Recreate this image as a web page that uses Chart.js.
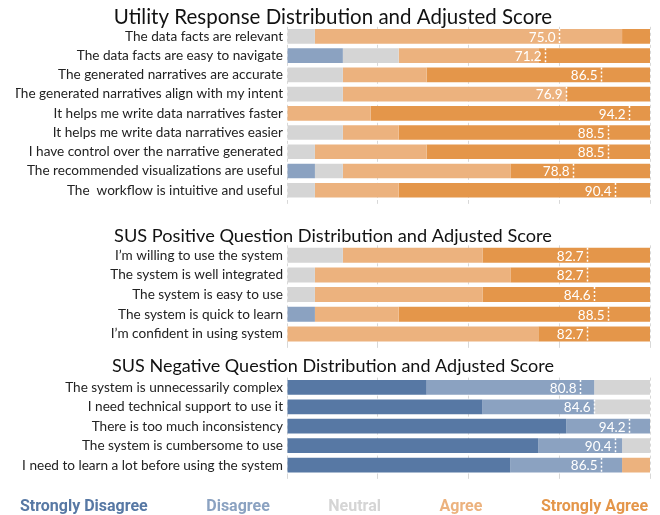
<!DOCTYPE html>
<html>
<head>
<meta charset="utf-8">
<script src="https://cdn.jsdelivr.net/npm/chart.js@4.4.1/dist/chart.umd.min.js"></script>
<style>
  body { margin: 0; background: #fff; }
  #wrap { position: relative; width: 660px; height: 515px; }
  .panel { position: absolute; left: 0; width: 660px; }
  #legend { position: absolute; left: 4px; top: 496px; width: 660px; display: flex; justify-content: center; gap: 58.5px;
    font-family: Roboto, sans-serif; font-weight: 700; font-size: 16px; }
</style>
</head>
<body>
<div id="wrap">
  <div class="panel" style="top:5px;height:207px"><canvas id="utilityChart"></canvas></div>
  <div class="panel" style="top:225px;height:131px"><canvas id="susPosChart"></canvas></div>
  <div class="panel" style="top:355px;height:132px"><canvas id="susNegChart"></canvas></div>
  <div id="legend"></div>
</div>
<script>
// Response counts (13 participants per question)
const respondents = 13;
const levels = ['Strongly Disagree', 'Disagree', 'Neutral', 'Agree', 'Strongly Agree'];
const levelColors = ['#5778a4', '#8ba2c1', '#d5d5d5', '#ecb27e', '#e4964a'];

const utilityLabels = [
  'The data facts are relevant',
  'The data facts are easy to navigate',
  'The generated narratives are accurate',
  'The generated narratives align with my intent',
  'It helps me write data narratives faster',
  'It helps me write data narratives easier',
  'I have control over the narrative generated',
  'The recommended visualizations are useful',
  'The  workflow is intuitive and useful'
];
const utilitySD = [0, 0, 0, 0, 0, 0, 0, 0, 0];
const utilityD = [0, 2, 0, 0, 0, 0, 0, 1, 0];
const utilityN = [1, 2, 2, 2, 0, 2, 1, 1, 1];
const utilityA = [11, 5, 3, 8, 3, 2, 4, 6, 3];
const utilitySA = [1, 4, 8, 3, 10, 9, 8, 5, 9];
const utilityScore = [75.0, 71.2, 86.5, 76.9, 94.2, 88.5, 88.5, 78.8, 90.4];

const susPosLabels = [
  'I’m willing to use the system',
  'The system is well integrated',
  'The system is easy to use',
  'The system is quick to learn',
  'I’m confident in using system'
];
const susPosSD = [0, 0, 0, 0, 0];
const susPosD = [0, 0, 0, 1, 0];
const susPosN = [2, 1, 1, 0, 0];
const susPosA = [5, 7, 6, 3, 9];
const susPosSA = [6, 5, 6, 9, 4];
const susPosScore = [82.7, 82.7, 84.6, 88.5, 82.7];

const susNegLabels = [
  'The system is unnecessarily complex',
  'I need technical support to use it',
  'There is too much inconsistency',
  'The system is cumbersome to use',
  'I need to learn a lot before using the system'
];
const susNegSD = [5, 7, 10, 9, 8];
const susNegD = [6, 4, 3, 3, 4];
const susNegN = [2, 2, 0, 1, 0];
const susNegA = [0, 0, 0, 0, 1];
const susNegSA = [0, 0, 0, 0, 0];
const susNegScore = [80.8, 84.6, 94.2, 90.4, 86.5];

const toPct = arr => arr.map(v => v / respondents * 100);

// Draws the adjusted score label and a dotted marker on every bar
const scorePlugin = {
  id: 'scoreMarker',
  afterDatasetsDraw(chart, args, opts) {
    const ctx = chart.ctx;
    const xScale = chart.scales.x;
    const meta = chart.getDatasetMeta(0);
    ctx.save();
    opts.scores.forEach((s, i) => {
      const bar = meta.data[i];
      const x = Math.round(xScale.getPixelForValue(s)) + 0.5;
      const top = bar.y - bar.height / 2;
      const bottom = bar.y + bar.height / 2;
      ctx.strokeStyle = '#fff';
      ctx.lineWidth = 1.5;
      ctx.setLineDash([2, 2]);
      ctx.beginPath();
      ctx.moveTo(x, top);
      ctx.lineTo(x, bottom);
      ctx.stroke();
      ctx.setLineDash([]);
      ctx.fillStyle = '#fff';
      ctx.font = '13.5px Lato';
      ctx.textAlign = 'right';
      ctx.textBaseline = 'middle';
      ctx.fillText(s.toFixed(1), x - 4, bar.y + 1);
    });
    ctx.restore();
  }
};

function makeChart(id, title, titleSize, labels, series, scores, titlePad) {
  const ctx = document.getElementById(id).getContext('2d');
  return new Chart(ctx, {
    type: 'bar',
    data: {
      labels: labels,
      datasets: series.map((s, k) => ({
        label: levels[k],
        data: toPct(s),
        backgroundColor: levelColors[k],
        borderWidth: 0,
        barPercentage: 0.76,
        categoryPercentage: 1
      }))
    },
    options: {
      indexAxis: 'y',
      responsive: true,
      maintainAspectRatio: false,
      animation: false,
      layout: { padding: { left: 16, right: 10, top: 0, bottom: 0 } },
      plugins: {
        legend: { display: false },
        tooltip: { enabled: false },
        title: {
          display: true,
          text: title,
          color: '#111',
          font: { family: 'Lato', size: titleSize, weight: 'normal' },
          padding: titlePad
        },
        scoreMarker: { scores: scores }
      },
      scales: {
        x: {
          stacked: true,
          min: 0,
          max: 100,
          ticks: { display: false, stepSize: 25 },
          grid: { color: '#d8d8d8', lineWidth: 1, tickLength: 4, drawTicks: true },
          border: { display: false, dash: [3, 3] }
        },
        y: {
          stacked: true,
          grid: { display: false, drawTicks: false },
          border: { display: false },
          ticks: { color: '#222', padding: 4, font: { family: 'Lato', size: 13.6 } },
          afterFit: scale => { scale.width = 271; }
        }
      }
    },
    plugins: [scorePlugin]
  });
}

makeChart('utilityChart', 'Utility Response Distribution and Adjusted Score', 20.5, utilityLabels,
  [utilitySD, utilityD, utilityN, utilityA, utilitySA], utilityScore, { top: 0, bottom: -2.8 });
makeChart('susPosChart', 'SUS Positive Question Distribution and Adjusted Score', 18.2, susPosLabels,
  [susPosSD, susPosD, susPosN, susPosA, susPosSA], susPosScore, { top: 0.5, bottom: -2 });
makeChart('susNegChart', 'SUS Negative Question Distribution and Adjusted Score', 18, susNegLabels,
  [susNegSD, susNegD, susNegN, susNegA, susNegSA], susNegScore, { top: 0, bottom: 1 });

// Legend: coloured category names
const legendEl = document.getElementById('legend');
levels.forEach((name, k) => {
  const span = document.createElement('span');
  span.textContent = name;
  span.style.color = levelColors[k];
  legendEl.appendChild(span);
});
</script>
</body>
</html>
